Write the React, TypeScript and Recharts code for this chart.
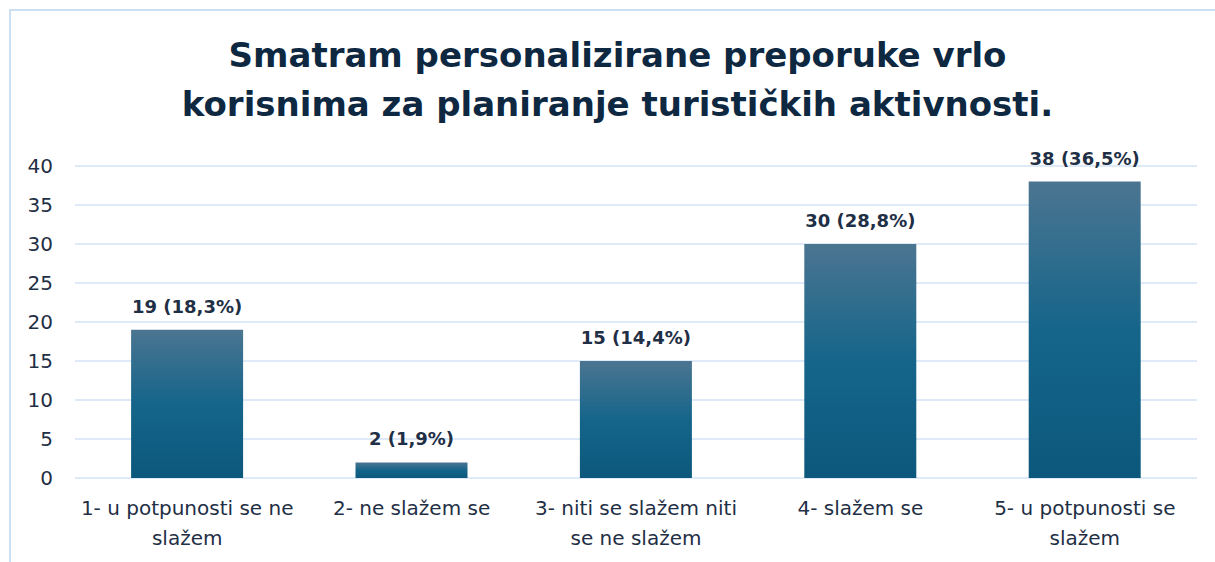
import { BarChart, Bar, XAxis, YAxis, CartesianGrid, LabelList } from "recharts";

const categories = [
  "1- u potpunosti se ne\nslažem",
  "2- ne slažem se",
  "3- niti se slažem niti\nse ne slažem",
  "4- slažem se",
  "5- u potpunosti se\nslažem",
];
const counts = [19, 2, 15, 30, 38];
const percents = ["18,3%", "1,9%", "14,4%", "28,8%", "36,5%"];
const yTicks = [0, 5, 10, 15, 20, 25, 30, 35, 40];
const titleLines = ["Smatram personalizirane preporuke vrlo", "korisnima za planiranje turističkih aktivnosti."];

const data = categories.map((c, i) => ({ name: c, value: counts[i], label: `${counts[i]} (${percents[i]})` }));

const FONT = "'DejaVu Sans', sans-serif";
const TEXT = "#1f2f45";

function CategoryTick({ x, y, payload }: any) {
  const lines = String(payload.value).split("\n");
  return (
    <text x={x} y={y} textAnchor="middle" fill={TEXT} fontSize={20} fontFamily={FONT}>
      {lines.map((l, i) => (
        <tspan key={i} x={x} dy={i === 0 ? 29 : 30}>
          {l}
        </tspan>
      ))}
    </text>
  );
}

export default function App() {
  return (
    <div style={{ position: "absolute", left: 0, top: 0, width: 1215, height: 562, background: "#fff", overflow: "hidden" }}>
      <div
        style={{
          position: "absolute",
          left: 9,
          top: 9,
          width: 1220,
          height: 560,
          borderLeft: "2px solid #cddff2",
          borderTop: "2px solid #cddff2",
        }}
      />
      <div
        style={{
          position: "absolute",
          left: 0,
          top: 31,
          width: 1235,
          textAlign: "center",
          fontFamily: FONT,
          fontWeight: 700,
          fontSize: 34,
          lineHeight: "49px",
          color: "#0e2841",
        }}
      >
        {titleLines.map((t) => (
          <div key={t}>{t}</div>
        ))}
      </div>
      <div style={{ position: "absolute", left: 0, top: 0 }}>
        <BarChart width={1215} height={562} data={data} margin={{ top: 166, right: 18, left: 15, bottom: 0 }} barCategoryGap="25%">
          <defs>
            <linearGradient id="barFill" x1="0" y1="0" x2="0" y2="1">
              <stop offset="0%" stopColor="#4b7591" />
              <stop offset="50%" stopColor="#15658a" />
              <stop offset="100%" stopColor="#0c587c" />
            </linearGradient>
          </defs>
          <CartesianGrid vertical={false} stroke="#d3e3f5" strokeWidth={1.5} />
          <XAxis dataKey="name" axisLine={false} tickLine={false} height={84} interval={0} tick={<CategoryTick />} />
          <YAxis
            domain={[0, 40]}
            ticks={yTicks}
            width={60}
            axisLine={false}
            tickLine={false}
            tickSize={0}
            tickMargin={22}
            tick={{ fill: TEXT, fontSize: 20, fontFamily: FONT }}
          />
          <Bar dataKey="value" fill="url(#barFill)" isAnimationActive={false}>
            <LabelList dataKey="label" position="top" offset={17} fill={TEXT} fontSize={18} fontWeight={700} fontFamily={FONT} />
          </Bar>
        </BarChart>
      </div>
    </div>
  );
}
